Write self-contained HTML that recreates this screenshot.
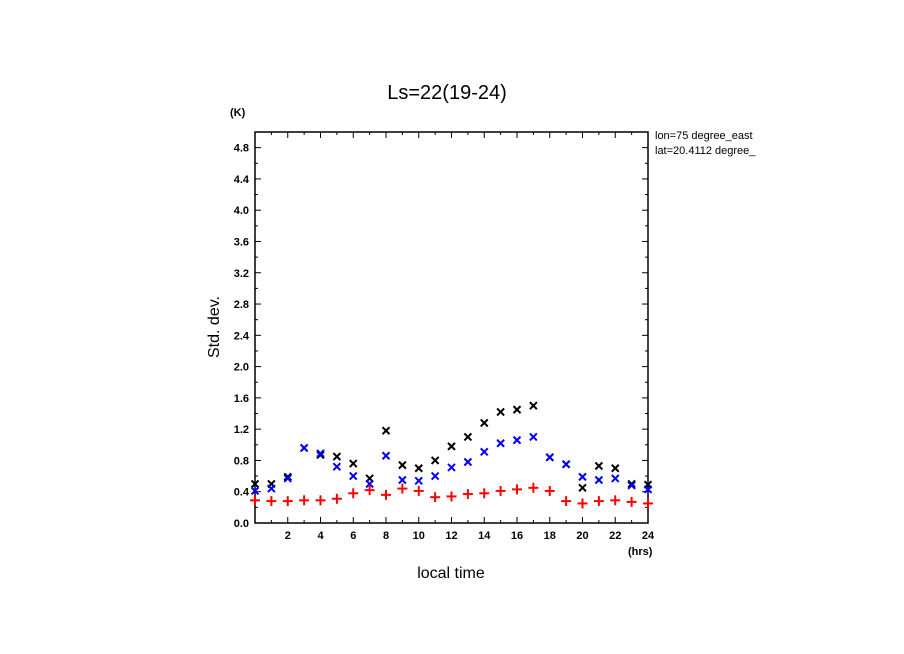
<!DOCTYPE html>
<html><head><meta charset="utf-8"><style>
html,body{margin:0;padding:0;background:#fff;}
svg{display:block;font-family:"Liberation Sans",sans-serif;}
</style></head><body>
<svg id="chart" width="904" height="654">
<text x="447" y="99" font-size="20" text-anchor="middle">Ls=22(19-24)</text>
<text x="230" y="116" font-size="11" font-weight="bold">(K)</text>
<text x="655" y="139" font-size="11">lon=75 degree_east</text>
<text x="655" y="154" font-size="11">lat=20.4112 degree_</text>
<text x="628" y="555" font-size="11" font-weight="bold">(hrs)</text>
<text x="451" y="578" font-size="16" text-anchor="middle">local time</text>
<text x="219" y="327" font-size="16" text-anchor="middle" transform="rotate(-90 219 327)">Std. dev.</text>
<rect x="255" y="132" width="393" height="391" fill="none" stroke="#000" stroke-width="1.5"/>
<g id="ticks"></g>
<g id="marks"></g>
</svg>
<script>
const hours=[0,1,2,3,4,5,6,7,8,9,10,11,12,13,14,15,16,17,18,19,20,21,22,23,24];
const blackVals=[0.50,0.50,0.59,0.96,0.87,0.85,0.76,0.57,1.18,0.74,0.70,0.80,0.98,1.10,1.28,1.42,1.45,1.50,0.84,0.75,0.45,0.73,0.70,0.50,0.49];
const blueVals=[0.41,0.44,0.57,0.96,0.89,0.72,0.60,0.50,0.86,0.55,0.54,0.60,0.71,0.78,0.91,1.02,1.06,1.10,0.84,0.75,0.59,0.55,0.57,0.48,0.43];
const redVals=[0.29,0.28,0.28,0.29,0.29,0.31,0.38,0.42,0.36,0.44,0.41,0.33,0.34,0.37,0.38,0.41,0.43,0.45,0.41,0.28,0.25,0.28,0.29,0.27,0.25];
const xTickLabels=["2","4","6","8","10","12","14","16","18","20","22","24"];
const yTickLabels=["0.0","0.4","0.8","1.2","1.6","2.0","2.4","2.8","3.2","3.6","4.0","4.4","4.8"];
const NS="http://www.w3.org/2000/svg";
const X0=255,X1=648,Y0=523,Y1=132;
function xs(v){return X0+(v/24)*(X1-X0);}
function ys(v){return Y0-(v/5)*(Y0-Y1);}
function mk(tag,attrs,parent){const e=document.createElementNS(NS,tag);for(const k in attrs)e.setAttribute(k,attrs[k]);parent.appendChild(e);return e;}
const tg=document.getElementById('ticks');
for(let h=1;h<24;h++){
  const len=(h%2===0)?6:3;
  let t=mk('line',{x1:xs(h),x2:xs(h),y1:Y0,y2:Y0-len,stroke:'#000'},tg);
  
  
  t=mk('line',{x1:xs(h),x2:xs(h),y1:Y1,y2:Y1+len,stroke:'#000'},tg);
  
  
}
xTickLabels.forEach(s=>{
  const t=mk('text',{x:xs(+s),y:Y0+16,'font-size':11,'font-weight':'bold','text-anchor':'middle'},tg);
  t.textContent=s;
  
  
});
for(let i=1;i<25;i++){
  const v=i*0.2,len=(i%2===0)?6:3;
  let t=mk('line',{x1:X0,x2:X0+len,y1:ys(v),y2:ys(v),stroke:'#000'},tg);
  
  
  t=mk('line',{x1:X1,x2:X1-len,y1:ys(v),y2:ys(v),stroke:'#000'},tg);
  
  
}
yTickLabels.forEach(s=>{
  const t=mk('text',{x:X0-6,y:ys(+s)+4,'font-size':11,'font-weight':'bold','text-anchor':'end'},tg);
  t.textContent=s;
  
  
});
const mg=document.getElementById('marks');
function cross(x,y,c,name){
  const g=mk('g',{stroke:c,'stroke-width':2},mg);
  
  
  mk('line',{x1:x-3.5,y1:y-3.5,x2:x+3.5,y2:y+3.5},g);
  mk('line',{x1:x-3.5,y1:y+3.5,x2:x+3.5,y2:y-3.5},g);
}
function plus(x,y,c,name){
  const g=mk('g',{stroke:c,'stroke-width':2},mg);
  
  
  mk('line',{x1:x-5,y1:y,x2:x+5,y2:y},g);
  mk('line',{x1:x,y1:y-5,x2:x,y2:y+5},g);
}
hours.forEach((h,i)=>cross(xs(h),ys(blackVals[i]),'#000','black-point'));
hours.forEach((h,i)=>cross(xs(h),ys(blueVals[i]),'#0000ff','blue-point'));
hours.forEach((h,i)=>plus(xs(h),ys(redVals[i]),'#ff0000','red-point'));
</script>
</body></html>
